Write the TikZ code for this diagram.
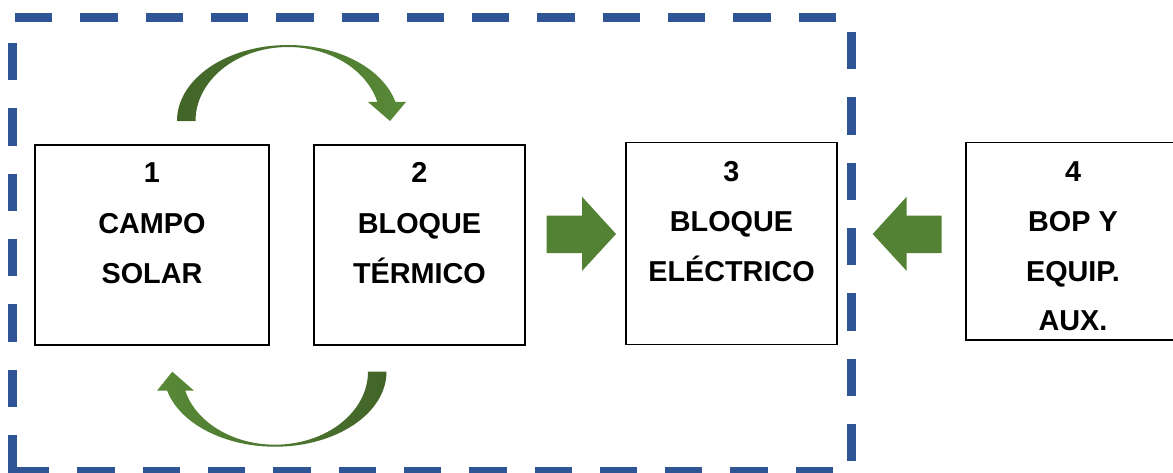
\documentclass[tikz,border=0pt]{standalone}
\usepackage{fontspec}
\setmainfont{Liberation Sans}
\begin{document}
\definecolor{frameblue}{RGB}{47,85,151}
\definecolor{flowgreen}{RGB}{84,130,53}
\definecolor{greendark}{RGB}{66,100,40}
\definecolor{greenlight}{RGB}{88,138,55}
\begin{tikzpicture}[x=1pt,y=1pt,
  block/.style={draw=black,line width=1.5pt,fill=white,inner sep=0pt},
  label/.style={anchor=base,inner sep=0pt,font=\fontsize{28.8}{34}\selectfont\bfseries},
  frame/.style={draw=frameblue,line width=9pt,dash pattern=on 37.3pt off 28pt},
  flow/.style={fill=flowgreen}]
\useasboundingbox (0,0) rectangle (1173,472);
\clip (0,0) rectangle (1173,472);

% dashed boundary of the solar plant
\draw[frame,dash phase=62.3pt] (12,454) -- (851,454);
\draw[frame,dash phase=51.3pt] (851,454) -- (851,-5);
\draw[frame,dash phase=47.3pt] (851,0.5) -- (12,0.5);
\draw[frame,dash phase=40.3pt] (12,454) -- (12,-5);
\fill[frameblue] (7.5,-4) rectangle (16.5,5);

% blocks
\node[block,minimum width=234pt,minimum height=200pt] (b1) at (152,227) {};
\node[block,minimum width=211pt,minimum height=200pt] (b2) at (419.5,227) {};
\node[block,minimum width=211pt,minimum height=202pt] (b3) at (731.5,228.7) {};
\node[block,minimum width=212pt,minimum height=197.7pt] (b4) at (1072,230.85) {};

% block texts
\node[label] (n1) at (152,289) {1};
\node[label] (t1a) at (152,239) {CAMPO};
\node[label] (t1b) at (152,189) {SOLAR};
\node[label] (n2) at (419.5,289) {2};
\node[label] (t2a) at (419.5,239) {BLOQUE};
\node[label] (t2b) at (419.5,189) {TÉRMICO};
\node[label] (n3) at (731.5,290.3) {3};
\node[label] (t3a) at (731.5,240.3) {BLOQUE};
\node[label] (t3b) at (731.5,190.3) {ELÉCTRICO};
\node[label] (n4) at (1073,290.3) {4};
\node[label] (t4a) at (1073,240.3) {BOP Y};
\node[label] (t4b) at (1073,191) {EQUIP.};
\node[label] (t4c) at (1073,142) {AUX.};

% straight block arrows into the electrical block
\fill[flow] (546.7,256.3) -- (582,256.3) -- (582,275.3) -- (616,238)
  -- (582,201) -- (582,219) -- (546.7,219) -- cycle;
\fill[flow] (941.7,256.3) -- (906.7,256.3) -- (906.7,275.3) -- (872.7,238)
  -- (906.7,201) -- (906.7,219) -- (941.7,219) -- cycle;

% curved arrow from block 1 over to block 2
\shade[left color=greendark,right color=greenlight]
  (177,351) arc[start angle=180,end angle=14.5,x radius=111pt,y radius=76pt]
  -- (406,370) -- (390,351) -- (368,370) -- (377.4,370)
  arc[start angle=14.9,end angle=180,x radius=92.5pt,y radius=74pt]
  -- cycle;

% curved arrow from block 2 back under to block 1
\shade[left color=greenlight,right color=greendark]
  (386.5,100.3) arc[start angle=360,end angle=194.7,x radius=111.5pt,y radius=75pt]
  -- (157,81.3) -- (172.3,100.3) -- (194,81.3) -- (185.2,81.3)
  arc[start angle=195.1,end angle=360,x radius=93pt,y radius=73pt]
  -- cycle;
\end{tikzpicture}
\end{document}
